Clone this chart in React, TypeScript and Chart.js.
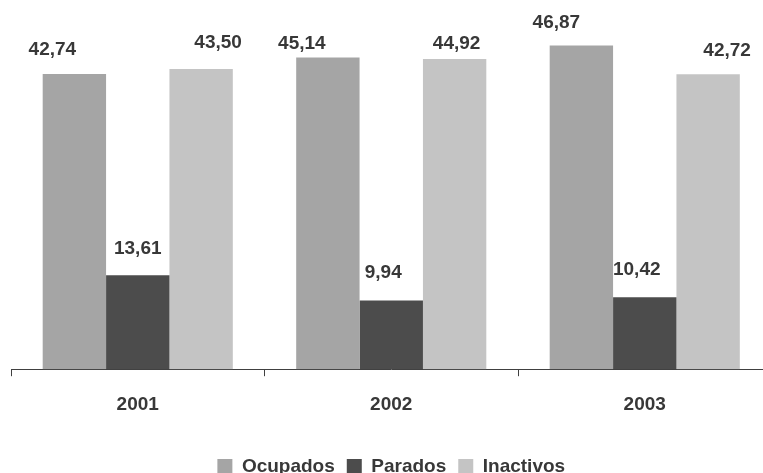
import React, { useEffect, useRef } from "react";
import { Chart, registerables } from "chart.js";

Chart.register(...registerables);

const categories = ["2001", "2002", "2003"];
const seriesNames = ["Ocupados", "Parados", "Inactivos"];
const ocupados = [42.74, 45.14, 46.87];
const parados = [13.61, 9.94, 10.42];
const inactivos = [43.5, 44.92, 42.72];
const colors = ["#a5a5a5", "#4c4c4c", "#c4c4c4"];
// manual nudges of the value labels (relative to the bar top centre)
const labelDx = [
  [-22, -26, -25],
  [0, -8, -8],
  [17, 2, 19],
];
const labelDy = [
  [24, 14, 23],
  [26, 28, 27],
  [26, 15, 23],
];

const TEXT = "#383838";
const FONT = "'Liberation Sans', Arial, sans-serif";
const FS = 19;

const labelPlugin = {
  id: "barLabels",
  afterDatasetsDraw(chart: any) {
    const ctx = chart.ctx;
    ctx.save();
    ctx.font = `bold ${FS}px ${FONT}`;
    ctx.fillStyle = TEXT;
    ctx.textAlign = "center";
    ctx.textBaseline = "middle";
    chart.data.datasets.forEach((ds: any, di: number) => {
      const meta = chart.getDatasetMeta(di);
      meta.data.forEach((el: any, i: number) => {
        const v = ds.data[i] as number;
        ctx.fillText(v.toFixed(2).replace(".", ","), el.x + labelDx[di][i], el.y - labelDy[di][i]);
      });
    });
    ctx.restore();
  },
};

export default function App() {
  const ref = useRef<HTMLCanvasElement>(null);
  useEffect(() => {
    document.body.style.margin = "0";
    const chart = new Chart(ref.current!, {
      type: "bar",
      data: {
        labels: categories,
        datasets: [ocupados, parados, inactivos].map((d, i) => ({
          label: seriesNames[i],
          data: d,
          backgroundColor: colors[i],
          borderWidth: 0,
          categoryPercentage: 0.75,
          barPercentage: 1.0,
        })),
      },
      options: {
        animation: false,
        responsive: false,
        maintainAspectRatio: false,
        layout: { padding: { left: 11, right: 8.5, top: 24, bottom: 0 } },
        scales: {
          y: { display: false, min: 0, max: 50 },
          x: {
            grid: {
              drawOnChartArea: false,
              drawTicks: true,
              tickLength: 7,
              tickColor: "#404040",
              offset: true,
            },
            border: { display: true, color: "#404040", width: 1 },
            ticks: {
              color: TEXT,
              font: { family: FONT, size: FS, weight: "bold" },
              padding: 17.5,
            },
            title: {
              display: true,
              text: " ",
              font: { size: 1 },
              padding: { top: 9.8, bottom: 0 },
            },
          },
        },
        plugins: {
          tooltip: { enabled: false },
          legend: {
            position: "bottom",
            labels: {
              color: TEXT,
              font: { family: FONT, size: FS, weight: "bold" },
              boxWidth: 15,
              boxHeight: 15,
              padding: 12,
            },
          },
        },
      },
      plugins: [labelPlugin],
    });
    return () => chart.destroy();
  }, []);
  return (
    <div style={{ width: 763, height: 473, overflow: "hidden", position: "relative" }}>
      <canvas ref={ref} width={780} height={486} style={{ width: 780, height: 486, display: "block" }} />
    </div>
  );
}
